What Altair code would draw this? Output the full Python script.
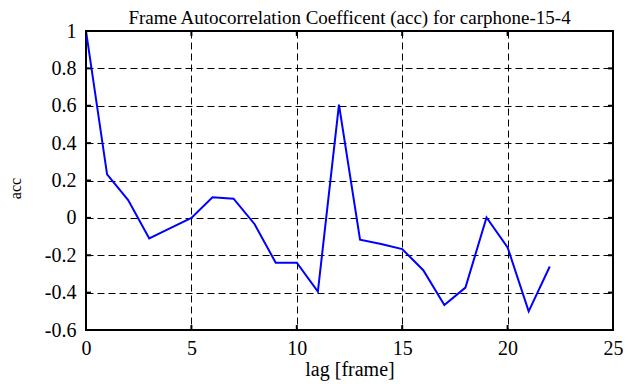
import altair as alt
import pandas as pd

lags = list(range(23))
acc = [1.0, 0.233, 0.095, -0.11, -0.055, 0.0, 0.11, 0.103, -0.034, -0.24, -0.24,
       -0.395, 0.606, -0.117, -0.14, -0.167, -0.28, -0.466, -0.373, 0.002, -0.158,
       -0.50, -0.26]
x_ticks = [0, 5, 10, 15, 20, 25]
y_ticks = [-0.6, -0.4, -0.2, 0, 0.2, 0.4, 0.6, 0.8, 1.0]

df = pd.DataFrame({"lag": lags, "acc": acc})
xt = pd.DataFrame({"t": x_ticks})
yt = pd.DataFrame({"t": y_ticks})

FONT = "Liberation Serif"
FS = 20
W, H = 527, 299

xscale = alt.Scale(domain=[0, 25], nice=False, zero=False)
yscale = alt.Scale(domain=[-0.6, 1.0], nice=False, zero=False)

common = dict(grid=True, gridDash=[7, 4], gridColor="black", gridOpacity=1, gridWidth=1,
              domain=False, ticks=False, labelOverlap=False, labelFont=FONT, titleFont=FONT,
              labelFontSize=FS, labelColor="black", titleColor="black",
              titleFontWeight="normal", labelFlush=False)

x_axis = alt.Axis(values=x_ticks, labelPadding=8, titlePadding=1, titleFontSize=FS, **common)
y_axis = alt.Axis(values=y_ticks, labelPadding=10, titlePadding=21, titleY=157,
                  titleFontSize=16,
                  labelExpr="replace(format(datum.value, '.1~f'), '\u2212', '-')", **common)

line = alt.Chart(df).mark_line(color="#0000ff", strokeWidth=2, clip=True).encode(
    x=alt.X("lag:Q", scale=xscale, title="lag [frame]", axis=x_axis),
    y=alt.Y("acc:Q", scale=yscale, title="acc", axis=y_axis),
)

tick_bottom = alt.Chart(xt).mark_rule(color="black", strokeWidth=2).encode(
    x=alt.X("t:Q", scale=xscale, title="lag [frame]", axis=x_axis),
    y=alt.value(H), y2=alt.value(H - 5))
tick_top = alt.Chart(xt).mark_rule(color="black", strokeWidth=2).encode(
    x=alt.X("t:Q", scale=xscale, title="lag [frame]", axis=x_axis),
    y=alt.value(0), y2=alt.value(5))
tick_left = alt.Chart(yt).mark_rule(color="black", strokeWidth=2).encode(
    y=alt.Y("t:Q", scale=yscale, title="acc", axis=y_axis),
    x=alt.value(0), x2=alt.value(5))
tick_right = alt.Chart(yt).mark_rule(color="black", strokeWidth=2).encode(
    y=alt.Y("t:Q", scale=yscale, title="acc", axis=y_axis),
    x=alt.value(W), x2=alt.value(W - 5))

chart = alt.layer(line, tick_bottom, tick_top, tick_left, tick_right).properties(
    width=W, height=H,
    title=alt.TitleParams("Frame Autocorrelation Coefficent (acc) for carphone-15-4",
                          font=FONT, fontSize=19, fontWeight="normal", color="black",
                          anchor="middle", frame="group", offset=0, dy=7),
    autosize=alt.AutoSizeParams(type="none"),
    padding={"left": 78, "top": 23, "right": 20, "bottom": 56},
    background="white",
).configure_view(stroke="black", strokeWidth=2)

chart.save("out.html", embed_options={"renderer": "svg", "actions": False})
